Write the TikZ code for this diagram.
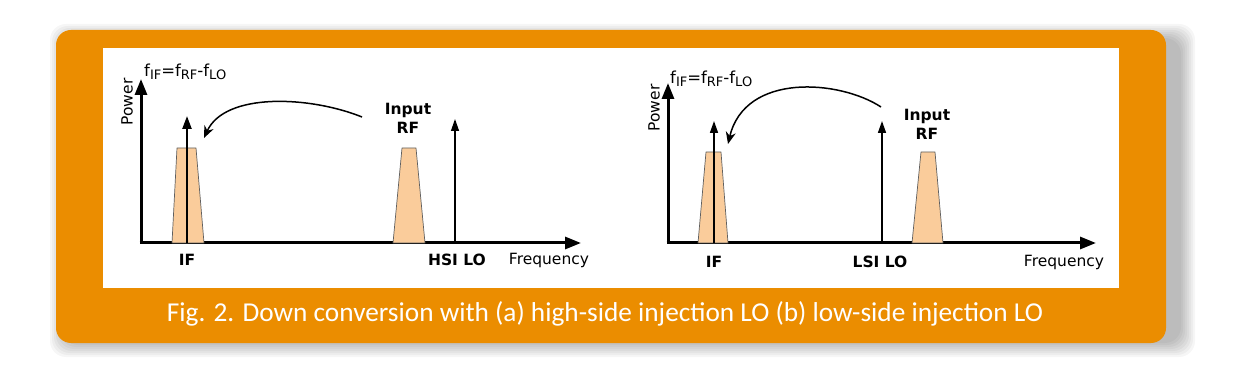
\documentclass[tikz,border=0pt]{standalone}
\usepackage{fontspec}
\usepackage{tikz}
\usetikzlibrary{arrows.meta}
\setmainfont{DejaVu Sans}
\newfontfamily\capfont{Carlito}
\definecolor{boxorange}{RGB}{235,141,0}
\definecolor{bandfill}{RGB}{250,204,155}
\definecolor{bandline}{RGB}{95,95,95}
\newcommand{\fsub}[1]{\raisebox{-0.35ex}{\fontsize{13}{13}\selectfont #1}}

\begin{document}
\begin{tikzpicture}[x=1pt,y=-1pt,
    axis/.style={line width=3pt,-{Triangle[length=16pt,width=12pt]}},
    carrier/.style={line width=2.3pt,-{Triangle[length=13pt,width=9pt]}},
    lo/.style={line width=1.3pt,-{Triangle[length=12pt,width=8pt]}},
    band/.style={fill=bandfill,draw=bandline,line width=0.7pt,line join=round},
    swing/.style={line width=1.5pt,-{Stealth[length=12pt,width=10pt]}},
    lbl/.style={font=\fontsize{15.5}{19}\selectfont,inner sep=0pt},
    blbl/.style={font=\fontsize{15.5}{19}\selectfont\bfseries,inner sep=0pt,align=center}]
    \useasboundingbox (0,0) rectangle (1251,390);
    \fill[white] (0,0) rectangle (1251,390);

    % Soft shadow behind the card
    \foreach \e in {0,2,...,14} {
        \fill[black,opacity=0.035,rounded corners=16pt]
            (64-\e,38-\e) rectangle (1181+\e,343+\e);
    }

    % Card and white panel
    \fill[boxorange,rounded corners=15pt] (56,30) rectangle (1166,343);
    \fill[white] (103,48) rectangle (1119,288);
    \node[font=\capfont\fontsize{27.3}{30}\selectfont,text=white,inner sep=0pt] (caption) at (605,314)
        {Fig. 2. Down conversion with (a) high-side injection LO (b) low-side injection LO};

    % (a) high-side injection
    \coordinate (oA) at (141,243);
    \coordinate (yA) at (141,79);
    \coordinate (xA) at (581,243);
    \draw[axis] (oA) -- (yA);
    \draw[axis] ([xshift=-1.5pt]oA) -- (xA);
    \filldraw[band] (172,243) -- (177,148) -- (196,148) -- (204,243) -- cycle;
    \filldraw[band] (393,243) -- (402,148) -- (416,148) -- (425,243) -- cycle;
    \coordinate (ifA) at (187,243);
    \coordinate (ifAtip) at (187,116);
    \coordinate (loA) at (455,243);
    \coordinate (loAtip) at (455,119);
    \draw[carrier] (ifA) -- (ifAtip);
    \draw[lo] (loA) -- (loAtip);
    \node[lbl,rotate=90] (powA) at (127,102) {Power};
    \node[lbl,anchor=west,font=\fontsize{16.5}{19}\selectfont] (fA) at (144,72) {f\fsub{IF}=f\fsub{RF}-f\fsub{LO}};
    \node[blbl] (rfA) at (408,118) {Input\\RF};
    \node[blbl] (ifAl) at (187,260) {IF};
    \node[blbl] (loAl) at (457,260) {HSI LO};
    \node[lbl] (frA) at (549,260) {Frequency};
    \coordinate (swA1) at (362,117);
    \coordinate (swA2) at (204,138);
    \draw[swing] (swA1) .. controls (310,96) and (225,92) .. (swA2);

    % (b) low-side injection
    \coordinate (oB) at (668,243);
    \coordinate (yB) at (668,83);
    \coordinate (xB) at (1096,243);
    \draw[axis] (oB) -- (yB);
    \draw[axis] ([xshift=-1.5pt]oB) -- (xB);
    \filldraw[band] (698,243) -- (706,152) -- (721,152) -- (728,243) -- cycle;
    \filldraw[band] (912,243) -- (921,152) -- (935,152) -- (943,243) -- cycle;
    \coordinate (ifB) at (714,243);
    \coordinate (ifBtip) at (714,121);
    \coordinate (loB) at (882,243);
    \coordinate (loBtip) at (882,121);
    \draw[lo,line width=1.6pt] (ifB) -- (ifBtip);
    \draw[lo,line width=1.6pt] (loB) -- (loBtip);
    \node[lbl,rotate=90] (powB) at (654,108) {Power};
    \node[lbl,anchor=west,font=\fontsize{16.5}{19}\selectfont] (fB) at (670,79) {f\fsub{IF}=f\fsub{RF}-f\fsub{LO}};
    \node[blbl] (rfB) at (927,124) {Input\\RF};
    \node[blbl] (ifBl) at (714,262) {IF};
    \node[blbl] (loBl) at (880,262) {LSI LO};
    \node[lbl] (frB) at (1064,262) {Frequency};
    \coordinate (swB1) at (881,107);
    \coordinate (swB2) at (728,144);
    \draw[swing] (swB1) .. controls (840,80) and (745,72) .. (swB2);
\end{tikzpicture}
\end{document}
